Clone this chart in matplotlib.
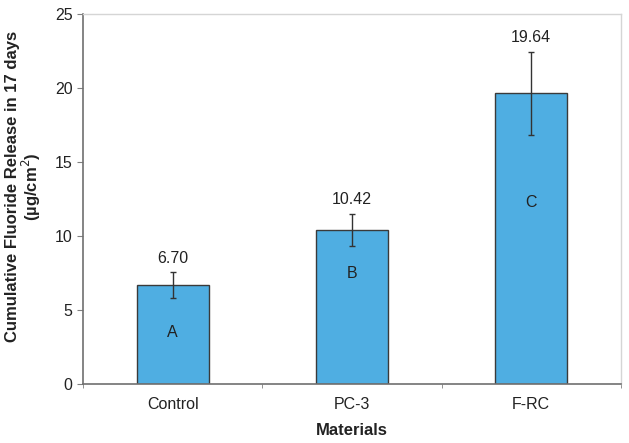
import matplotlib.pyplot as plt
import numpy as np

# Data
materials = ['Control', 'PC-3', 'F-RC']
release = [6.70, 10.42, 19.64]
errors = [0.85, 1.1, 2.8]
groups = ['A', 'B', 'C']
group_y = [3.5, 7.5, 12.3]

plt.rcParams['font.family'] = ['Liberation Sans', 'DejaVu Sans']

fig = plt.figure(figsize=(6.29, 4.43), dpi=100)
ax = fig.add_axes([0.132, 0.133, 0.855, 0.835])

x = np.arange(len(materials))
ax.bar(x, release, width=0.4, color='#4FAEE2', edgecolor='#3a3a3a', linewidth=1.0, zorder=2)
ax.errorbar(x, release, yerr=errors, fmt='none', ecolor='#333333', elinewidth=1.0,
            capsize=2.5, capthick=1.0, zorder=3)

# Values above the bars
for xi, v, e in zip(x, release, errors):
    ax.text(xi, v + e + 0.45, f'{v:.2f}', ha='center', va='bottom', fontsize=11.5, color='#222222')

# Group letters inside bars
for xi, g, gy in zip(x, groups, group_y):
    ax.text(xi, gy, g, ha='center', va='center', fontsize=11.5, color='#222222')

ax.set_xlim(-0.5, 2.5)
ax.set_ylim(0, 25)
ax.set_yticks([0, 5, 10, 15, 20, 25])
ax.set_xticks(x)
ax.set_xticklabels(materials)
ax.set_xticks([-0.5, 0.5, 1.5, 2.5], minor=True)
ax.tick_params(axis='x', which='major', length=0, pad=9, labelsize=11.5, labelcolor='#222222')
ax.tick_params(axis='x', which='minor', length=3, color='#808080', direction='out')
ax.tick_params(axis='y', length=4, color='#808080', labelsize=11.5, labelcolor='#222222')

for side in ['left', 'bottom']:
    ax.spines[side].set_color('#707070')
    ax.spines[side].set_linewidth(1.2)
for side in ['top', 'right']:
    ax.spines[side].set_color('#d5d5d5')
    ax.spines[side].set_linewidth(1.0)

ax.set_xlabel('Materials', fontsize=12, fontweight='bold', color='#222222', labelpad=8)
ax.set_ylabel('Cumulative Fluoride Release in 17 days\n(µg/cm$^2$)', fontsize=12,
              fontweight='bold', color='#222222', linespacing=1.0)
ax.yaxis.set_label_coords(-0.075, 0.535)

fig.savefig('out.png', dpi=100)
